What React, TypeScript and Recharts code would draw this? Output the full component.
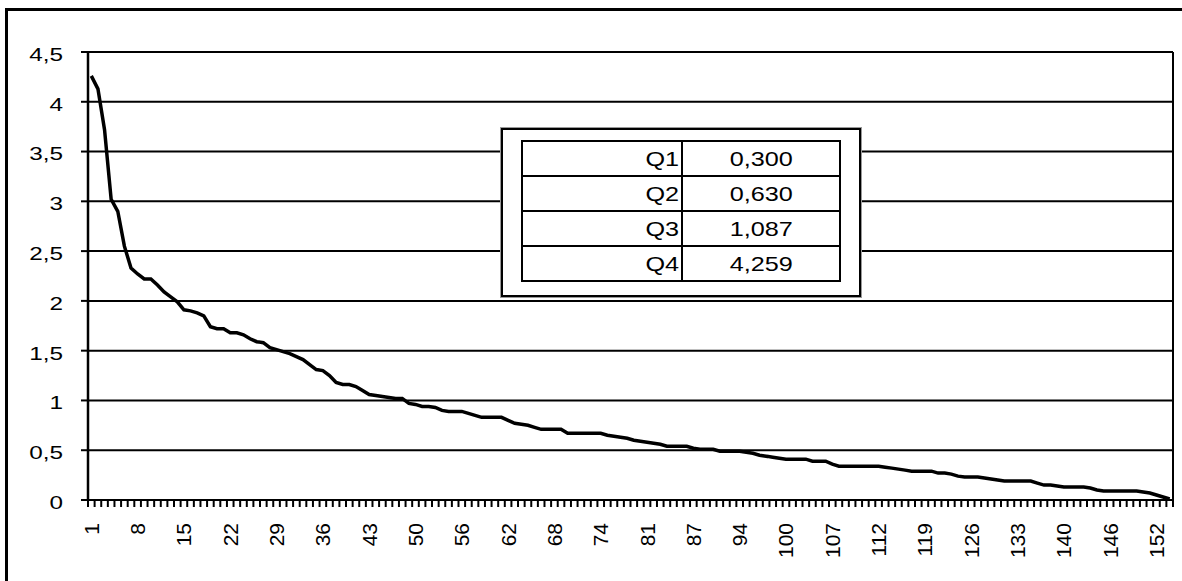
import { LineChart, Line, XAxis, YAxis, CartesianGrid } from 'recharts'

// sorted values, one per category (164 categories)
const VALUES = [
  4.26, 4.13, 3.72, 3.02, 2.9, 2.55, 2.33, 2.27, 2.22, 2.22,
  2.16, 2.09, 2.04, 1.99, 1.91, 1.9, 1.88, 1.85, 1.74, 1.72,
  1.72, 1.68, 1.68, 1.66, 1.62, 1.59, 1.58, 1.53, 1.51, 1.49,
  1.47, 1.44, 1.41, 1.36, 1.31, 1.3, 1.25, 1.18, 1.16, 1.16,
  1.14, 1.1, 1.06, 1.05, 1.04, 1.03, 1.02, 1.02, 0.97, 0.96,
  0.94, 0.94, 0.93, 0.9, 0.89, 0.89, 0.89, 0.87, 0.85, 0.83,
  0.83, 0.83, 0.83, 0.8, 0.77, 0.76, 0.75, 0.73, 0.71, 0.71,
  0.71, 0.71, 0.67, 0.67, 0.67, 0.67, 0.67, 0.67, 0.65, 0.64,
  0.63, 0.62, 0.6, 0.59, 0.58, 0.57, 0.56, 0.54, 0.54, 0.54,
  0.54, 0.52, 0.51, 0.51, 0.51, 0.49, 0.49, 0.49, 0.49, 0.48,
  0.47, 0.45, 0.44, 0.43, 0.42, 0.41, 0.41, 0.41, 0.41, 0.39,
  0.39, 0.39, 0.36, 0.34, 0.34, 0.34, 0.34, 0.34, 0.34, 0.34,
  0.33, 0.32, 0.31, 0.3, 0.29, 0.29, 0.29, 0.29, 0.27, 0.27,
  0.26, 0.24, 0.23, 0.23, 0.23, 0.22, 0.21, 0.2, 0.19, 0.19,
  0.19, 0.19, 0.19, 0.17, 0.15, 0.15, 0.14, 0.13, 0.13, 0.13,
  0.13, 0.12, 0.1, 0.09, 0.09, 0.09, 0.09, 0.09, 0.09, 0.08,
  0.07, 0.05, 0.03, 0.01,
]

// labels shown on every 7th category
const X_LABELS = [
  '1', '8', '15', '22', '29', '36', '43', '50', '56', '62', '68', '74',
  '81', '87', '94', '100', '107', '112', '119', '126', '133', '140', '146', '152',
]
const X_LABEL_EVERY = 7

const Y_TICKS = [0, 0.5, 1, 1.5, 2, 2.5, 3, 3.5, 4, 4.5]
const Y_LABELS = ['0', '0,5', '1', '1,5', '2', '2,5', '3', '3,5', '4', '4,5']

const QUARTILE_NAMES = ['Q1', 'Q2', 'Q3', 'Q4']
const QUARTILE_VALUES = ['0,300', '0,630', '1,087', '4,259']

const data = VALUES.map((v, i) => ({ idx: i, value: v }))

const FONT = '"Liberation Sans", Arial, sans-serif'
const CHART_W = 1177
const CHART_H = 573
const PLOT_W = 1085
const STEP = PLOT_W / VALUES.length

function XTick(props: any) {
  const { x, y, index } = props
  const half = STEP / 2
  const label = index % X_LABEL_EVERY === 0 ? X_LABELS[index / X_LABEL_EVERY] : undefined
  const ly = y + 23
  return (
    <g>
      <line x1={x - half} x2={x - half} y1={y} y2={y + 7} stroke="#000" strokeWidth={2} />
      {index === VALUES.length - 1 && (
        <line x1={x + half} x2={x + half} y1={y} y2={y + 7} stroke="#000" strokeWidth={2} />
      )}
      {label && (
        <text
          x={x}
          y={ly}
          transform={`rotate(-90 ${x} ${ly})`}
          textAnchor="end"
          dominantBaseline="central"
          fontSize={21}
          fontFamily={FONT}
          fill="#000"
        >
          {label}
        </text>
      )}
    </g>
  )
}

function YTick(props: any) {
  const { x, y, index } = props
  return (
    <text
      transform={`translate(${x},${y + 3}) scale(1.35,1)`}
      textAnchor="end"
      dominantBaseline="central"
      fontSize={18}
      fontFamily={FONT}
      fill="#000"
    >
      {Y_LABELS[index]}
    </text>
  )
}

// right edge of the plot area, taken from the chart's own offset
const plotRightEdge = ({ offset }: any) => [offset.left + offset.width]

const cell: React.CSSProperties = {
  border: '2px solid #000',
  height: 33,
  padding: 0,
  fontSize: 21,
  lineHeight: '21px',
}

export default function App() {
  return (
    <div
      style={{
        position: 'fixed',
        left: 5,
        top: 8,
        width: CHART_W,
        height: CHART_H,
        overflow: 'hidden',
        background: '#fff',
        fontFamily: FONT,
      }}
    >
      {/* chart frame: only top and left edges fall inside the picture */}
      <div
        style={{
          position: 'absolute',
          left: 0,
          top: 0,
          width: CHART_W + 20,
          height: CHART_H + 20,
          borderTop: '3px solid #000',
          borderLeft: '3px solid #000',
        }}
      />
      <div style={{ position: 'absolute', left: 0, top: 0 }}>
        <LineChart width={CHART_W} height={CHART_H} data={data} margin={{ top: 44, right: 9, bottom: 0, left: 0 }}>
          <CartesianGrid
            horizontal
            vertical
            verticalCoordinatesGenerator={plotRightEdge}
            stroke="#000"
            strokeWidth={2}
          />
          <XAxis
            dataKey="idx"
            type="category"
            height={81}
            interval={0}
            tickSize={0}
            tickMargin={0}
            tickLine={false}
            padding={{ left: STEP / 2, right: STEP / 2 }}
            axisLine={{ stroke: '#000', strokeWidth: 2 }}
            tick={<XTick />}
          />
          <YAxis
            width={83}
            domain={[0, 4.5]}
            ticks={Y_TICKS}
            interval={0}
            tickSize={7}
            tickMargin={18}
            tickLine={{ stroke: '#000', strokeWidth: 2 }}
            axisLine={{ stroke: '#000', strokeWidth: 2.5 }}
            tick={<YTick />}
          />
          <Line
            dataKey="value"
            type="linear"
            stroke="#000"
            strokeWidth={3.5}
            dot={false}
            activeDot={false}
            isAnimationActive={false}
          />
        </LineChart>
      </div>
      <div
        style={{
          position: 'absolute',
          left: 496,
          top: 120,
          width: 360,
          height: 169,
          border: '2px solid #000',
          boxSizing: 'border-box',
          background: '#fff',
          boxShadow: '0 0 0 1px #999',
        }}
      >
        <table
          style={{
            position: 'absolute',
            left: 18,
            top: 10,
            width: 320,
            height: 142,
            borderCollapse: 'collapse',
            fontFamily: FONT,
          }}
        >
          <tbody>
            {QUARTILE_NAMES.map((q, i) => (
              <tr key={q}>
                <td style={{ ...cell, width: 160, textAlign: 'right', paddingRight: 2 }}>
                  <span style={{ display: 'inline-block', transform: 'scaleX(1.2)', transformOrigin: 'right center' }}>
                    {q}
                  </span>
                </td>
                <td style={{ ...cell, width: 160, textAlign: 'center' }}>
                  <span style={{ display: 'inline-block', transform: 'scaleX(1.2)' }}>{QUARTILE_VALUES[i]}</span>
                </td>
              </tr>
            ))}
          </tbody>
        </table>
      </div>
    </div>
  )
}
